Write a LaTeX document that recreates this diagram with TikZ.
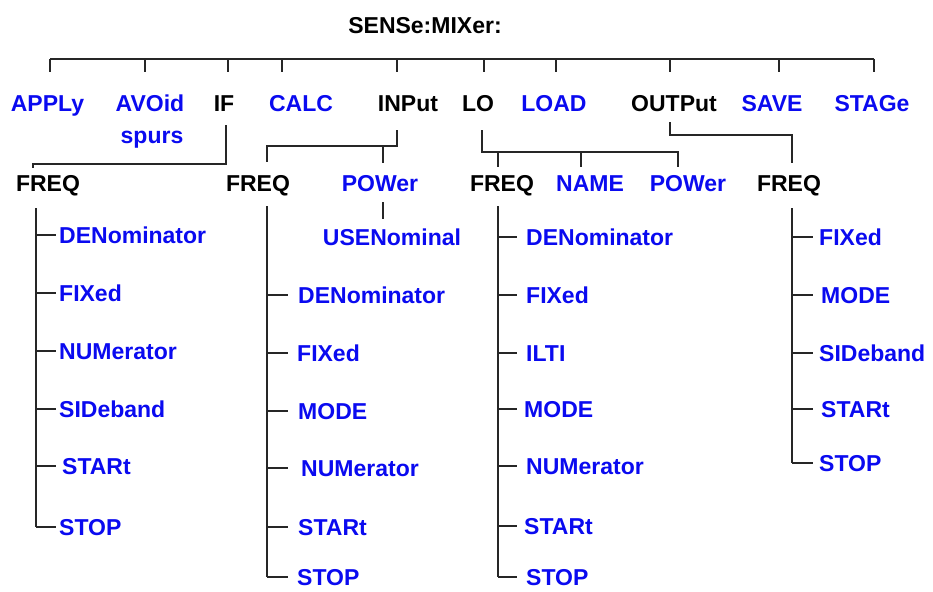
\documentclass[tikz,border=0pt]{standalone}
\usepackage{fontspec}
\setmainfont{Liberation Sans}
\definecolor{cmdblue}{RGB}{10,10,240}
\begin{document}
\begin{tikzpicture}[x=1pt,y=-1pt,
  lbl/.style={inner sep=0pt,text height=16.5pt,text depth=0pt,
    font=\bfseries\fontsize{23}{23}\selectfont},
  blk/.style={lbl,text=black},
  blu/.style={lbl,text=cmdblue},
  leaf/.style={blu,anchor=west},
  ln/.style={draw=black!85,line width=1.1pt}]
\useasboundingbox (0,0) rectangle (933,591);
\fill[white] (0,0) rectangle (933,591);

% title and top bar
\node[blk] (title) at (425,25) {SENSe:MIXer:};
\coordinate (barL) at (50,59);
\coordinate (barR) at (874,59);
\draw[ln] (barL) -- (barR);
\foreach \x in {50,145,228,282,397,484,556,670,779,874}
  \draw[ln] (\x,59) -- (\x,72);

% first level
\node[blu] (apply) at (47.5,103) {APPLy};
\node[blu] (avoid) at (150,103) {AVOid};
\node[blu] (spurs) at (152,135) {spurs};
\node[blk] (if) at (224,103) {IF};
\node[blu] (calc) at (301,103) {CALC};
\node[blk] (input) at (408,103) {INPut};
\node[blk] (lo) at (478,103) {LO};
\node[blu] (load) at (554,103) {LOAD};
\node[blk] (output) at (674,103) {OUTPut};
\node[blu] (save) at (772,103) {SAVE};
\node[blu] (stage) at (872,103) {STAGe};

% second level
\node[blk] (iffreq) at (48,183) {FREQ};
\node[blk] (infreq) at (258,183) {FREQ};
\node[blu] (inpow) at (380,183) {POWer};
\node[blk] (lofreq) at (502,183) {FREQ};
\node[blu] (loname) at (590,183) {NAME};
\node[blu] (lopow) at (688,183) {POWer};
\node[blk] (outfreq) at (789,183) {FREQ};
\node[blu] (usenom) at (392,237) {USENominal};

% connectors level 1 -> level 2
\coordinate (ifA) at (226,125);
\coordinate (ifB) at (33,168);
\draw[ln] (ifA) -- (226,164) -- (33,164) -- (ifB);
\coordinate (inA) at (397,130);
\coordinate (inB) at (267,162);
\coordinate (inC) at (383,163);
\draw[ln] (inA) -- (397,146) -- (267,146) -- (inB);
\draw[ln] (inC |- 0,146) -- (inC);
\coordinate (loA) at (482,130);
\coordinate (loB) at (678,167);
\draw[ln] (loA) -- (482,152) -- (678,152) -- (loB);
\draw[ln] (498,152) -- (498,167);
\draw[ln] (581,152) -- (581,167);
\coordinate (outA) at (670,122);
\coordinate (outB) at (792,163);
\draw[ln] (outA) -- (670,135) -- (792,135) -- (outB);
\coordinate (powA) at (383,202);
\coordinate (powB) at (383,219);
\draw[ln] (powA) -- (powB);

% IF:FREQ tree
\node[leaf] (i1) at (59,235) {DENominator};
\node[leaf] (i2) at (59,293) {FIXed};
\node[leaf] (i3) at (59,351) {NUMerator};
\node[leaf] (i4) at (59,409) {SIDeband};
\node[leaf] (i5) at (62,466) {STARt};
\node[leaf] (i6) at (59,527) {STOP};
\coordinate (ifT) at (36,208);
\draw[ln] (ifT) -- (ifT |- i6.west);
\foreach \n in {i1,i2,i3,i4,i5,i6}
  \draw[ln] (ifT |- \n.west) -- ++(20,0);

% INPut:FREQ tree
\node[leaf] (n1) at (298,295) {DENominator};
\node[leaf] (n2) at (297,353) {FIXed};
\node[leaf] (n3) at (298,411) {MODE};
\node[leaf] (n4) at (301,468) {NUMerator};
\node[leaf] (n5) at (298,527) {STARt};
\node[leaf] (n6) at (297,577) {STOP};
\coordinate (inT) at (267,206);
\draw[ln] (inT) -- (inT |- n6.west);
\foreach \n in {n1,n2,n3,n4,n5,n6}
  \draw[ln] (inT |- \n.west) -- ++(21,0);

% LO:FREQ tree
\node[leaf] (l1) at (526,237) {DENominator};
\node[leaf] (l2) at (526,295) {FIXed};
\node[leaf] (l3) at (526,353) {ILTI};
\node[leaf] (l4) at (524,409) {MODE};
\node[leaf] (l5) at (526,466) {NUMerator};
\node[leaf] (l6) at (524,526) {STARt};
\node[leaf] (l7) at (526,577) {STOP};
\coordinate (loT) at (498,206);
\draw[ln] (loT) -- (loT |- l7.west);
\foreach \n in {l1,l2,l3,l4,l5,l6,l7}
  \draw[ln] (loT |- \n.west) -- ++(19,0);

% OUTPut:FREQ tree
\node[leaf] (o1) at (819,237) {FIXed};
\node[leaf] (o2) at (821,295) {MODE};
\node[leaf] (o3) at (819,353) {SIDeband};
\node[leaf] (o4) at (821,409) {STARt};
\node[leaf] (o5) at (819,463) {STOP};
\coordinate (outT) at (792,208);
\draw[ln] (outT) -- (outT |- o5.west);
\foreach \n in {o1,o2,o3,o4,o5}
  \draw[ln] (outT |- \n.west) -- ++(21,0);
\end{tikzpicture}
\end{document}
